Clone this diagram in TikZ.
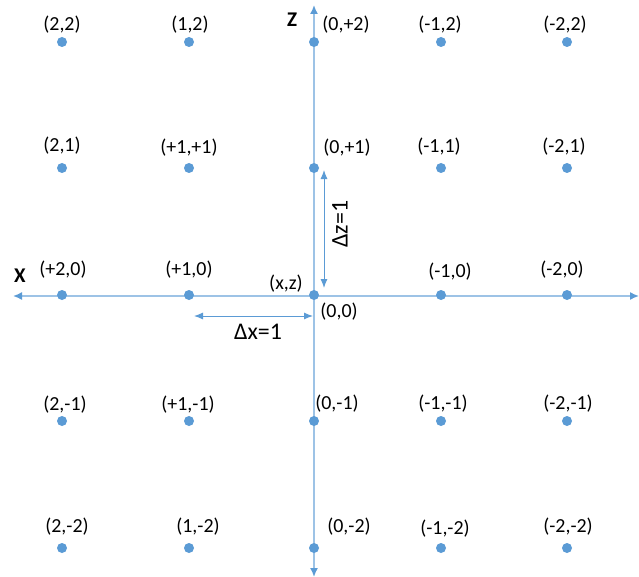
\documentclass[tikz,border=0pt]{standalone}
\usepackage{fontspec}
\setmainfont{Carlito}
\usetikzlibrary{arrows.meta}
\definecolor{dotblue}{HTML}{5B9BD5}
\definecolor{axisblue}{HTML}{9DC3E6}
\begin{document}
\begin{tikzpicture}[x=1bp,y=-1bp,
  pt/.style={circle,fill=dotblue,inner sep=0pt,minimum size=10bp},
  lbl/.style={font=\fontsize{20}{24}\selectfont,inner sep=0pt,anchor=center,text=black},
  dimlbl/.style={font=\fontsize{24}{28}\selectfont,inner sep=0pt,anchor=center,text=black},
  axlbl/.style={font=\fontsize{21}{24}\selectfont\bfseries,inner sep=0pt,anchor=center,text=black},
  axisline/.style={draw=axisblue,line width=1.6bp,
    {Latex[length=9bp,width=8bp,color=dotblue]}-{Latex[length=9bp,width=8bp,color=dotblue]}},
  dimline/.style={draw=dotblue,line width=1bp,
    {Latex[length=9bp,width=7bp]}-{Latex[length=9bp,width=7bp]}}]
\useasboundingbox (0,0) rectangle (639,577);
\fill[white] (0,0) rectangle (639,577);

% axes
\coordinate (xl) at (13,296);
\coordinate (xr) at (639,296);
\coordinate (zt) at (314,5);
\coordinate (zb) at (314,577);
\draw[axisline] (xl) -- (xr);
\draw[axisline] (zt) -- (zb);

% grid points
\foreach \cx [count=\i] in {62,189,314,441,567}{
  \foreach \cy [count=\j] in {42,168,295,421,548}{
    \node[pt] (p\i\j) at (\cx,\cy) {};
  }
}

% axis labels
\node[axlbl] (X) at (20,276) {X};
\node[axlbl] (Z) at (292,20) {Z};

% point labels
\node[lbl] (l22) at (62,25) {(2,2)};
\node[lbl] (l12) at (190,25) {(1,2)};
\node[lbl] (l02) at (346,25) {(0,+2)};
\node[lbl] (lm12) at (440,25) {(-1,2)};
\node[lbl] (lm22) at (565,25) {(-2,2)};

\node[lbl] (l21) at (62,146) {(2,1)};
\node[lbl] (l11) at (189,148) {(+1,+1)};
\node[lbl] (l01) at (347,148) {(0,+1)};
\node[lbl] (lm11) at (439,147) {(-1,1)};
\node[lbl] (lm21) at (564,147) {(-2,1)};

\node[lbl] (l20) at (63,270) {(+2,0)};
\node[lbl] (l10) at (189,270) {(+1,0)};
\node[lbl] (lxz) at (286,284) {(x,z)};
\node[lbl] (l00) at (339,312) {(0,0)};
\node[lbl] (lm10) at (450,272) {(-1,0)};
\node[lbl] (lm20) at (562,270) {(-2,0)};

\node[lbl] (l2m1) at (65,405) {(2,-1)};
\node[lbl] (l1m1) at (188,405) {(+1,-1)};
\node[lbl] (l0m1) at (337,404) {(0,-1)};
\node[lbl] (lm1m1) at (443,404) {(-1,-1)};
\node[lbl] (lm2m1) at (568,404) {(-2,-1)};

\node[lbl] (l2m2) at (67,527) {(2,-2)};
\node[lbl] (l1m2) at (198,527) {(1,-2)};
\node[lbl] (l0m2) at (349,527) {(0,-2)};
\node[lbl] (lm1m2) at (445,529) {(-1,-2)};
\node[lbl] (lm2m2) at (568,527) {(-2,-2)};

% dimension arrows
\coordinate (dxl) at (194,316);
\coordinate (dxr) at (313,316);
\draw[dimline] (dxl) -- (dxr);
\node[dimlbl] (dxlbl) at (258,332) {Δx=1};

\coordinate (dzt) at (324,170);
\coordinate (dzb) at (324,288);
\draw[dimline] (dzt) -- (dzb);
\node[dimlbl,rotate=90] (dzlbl) at (340,224) {Δz=1};
\end{tikzpicture}
\end{document}
